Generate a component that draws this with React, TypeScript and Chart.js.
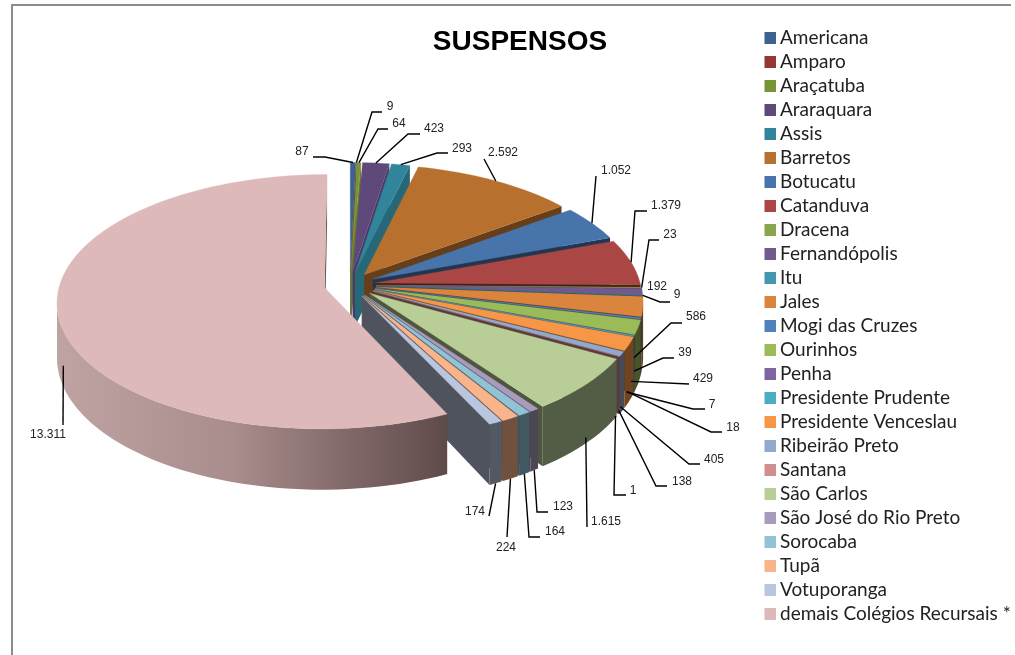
import React, { useEffect, useRef } from "react";
import { Chart, registerables } from "chart.js";

Chart.register(...registerables);

const categories = ["Americana","Amparo","Araçatuba","Araraquara","Assis","Barretos","Botucatu","Catanduva","Dracena","Fernandópolis","Itu","Jales","Mogi das Cruzes","Ourinhos","Penha","Presidente Prudente","Presidente Venceslau","Ribeirão Preto","Santana","São Carlos","São José do Rio Preto","Sorocaba","Tupã","Votuporanga","demais Colégios Recursais *"];
const suspensos = [87,9,64,423,293,2592,1052,1379,23,192,9,586,39,429,7,18,405,138,1,1615,123,164,224,174,13311];
const valueLabels = ["87","9","64","423","293","2.592","1.052","1.379","23","192","9","586","39","429","7","18","405","138","1","1.615","123","164","224","174","13.311"];
const sliceColors = ["#3B6291","#943734","#769535","#5F497A","#31859B","#B8702E","#4674AB","#AA4643","#89A54E","#71588F","#4198AF","#DB843D","#4F81BD","#9BBB59","#8064A2","#4BACC6","#F79646","#92A9CF","#CE8F8E","#B9CD96","#A99BBD","#91C3D5","#F9B48C","#B9C6DF","#DDB9B9"];

// Label layout: text centre, leader elbows (px), how far down the wall the leader attaches (0-1), anchor nudge.
type Lay = { t: [number, number]; e: [number, number][]; z: number; n?: [number, number] };
const labelLayout: Lay[] = [
  { t: [302, 152], e: [[313, 157], [325, 157]], z: 0 },
  { t: [390, 107], e: [[382, 112], [372, 112]], z: 0 },
  { t: [399, 124], e: [[388, 129], [378, 129]], z: 0 },
  { t: [434, 129], e: [[420, 134], [408, 134]], z: 0 },
  { t: [462, 149], e: [[448, 153], [437, 153]], z: 0 },
  { t: [503, 153], e: [[484, 159]], z: 0 },
  { t: [616, 171], e: [[596, 176]], z: 0 },
  { t: [666, 206], e: [[647, 211], [635, 211]], z: 0 },
  { t: [670, 235], e: [[659, 240], [649, 240]], z: 0 },
  { t: [657, 287], e: [], z: 0 },
  { t: [677, 295], e: [[670, 302], [660, 302]], z: 0 },
  { t: [696, 317], e: [[682, 323], [671, 323]], z: 1, n: [-9, -4] },
  { t: [685, 353], e: [[674, 358], [663, 358]], z: 1, n: [-7, -3] },
  { t: [703, 379], e: [[689, 384]], z: 1, n: [-7, -2] },
  { t: [712, 405], e: [[705, 409], [693, 409]], z: 1, n: [-8, 0] },
  { t: [733, 428], e: [[722, 432], [711, 432]], z: 1, n: [-7, -1] },
  { t: [714, 460], e: [[700, 464], [689, 464]], z: 1, n: [-9, 6] },
  { t: [682, 482], e: [[667, 486], [656, 486]], z: 1, n: [-3, -1] },
  { t: [633, 491], e: [[626, 495], [614, 495]], z: 1, n: [-4, 2] },
  { t: [606, 522], e: [[587, 527]], z: 0.9 },
  { t: [563, 507], e: [[548, 512], [537, 512]], z: 1 },
  { t: [555, 532], e: [[540, 537], [529, 537]], z: 1 },
  { t: [506, 548], e: [[507, 537]], z: 1 },
  { t: [475, 512], e: [[489, 516]], z: 1 },
  { t: [48, 435], e: [[63, 425]], z: 0.85, n: [5, 3] },
];

const CX = 350, CY = 285;
const SQUASH = 0.4717, PERSP = 0.11, DEPTH = 54, RAD = 265, EXPLODE = 104;

function shade(hex: string, f: number) {
  const n = parseInt(hex.slice(1), 16);
  const c = (s: number) => Math.round(((n >> s) & 255) * f);
  return `rgb(${c(16)},${c(8)},${c(0)})`;
}

function project(X: number, Y: number, z: number, R: number): [number, number] {
  const k = 1 / (1 - (PERSP * Y) / R);
  return [CX + X * k, CY + (Y * SQUASH + z) * k];
}

function wall(ctx: any, run: [number, number][], R: number, fill: any) {
  ctx.fillStyle = fill;
  ctx.beginPath();
  run.forEach((p, s) => {
    const a = project(p[0], p[1], 0, R);
    if (s) ctx.lineTo(a[0], a[1]); else ctx.moveTo(a[0], a[1]);
  });
  for (let s = run.length - 1; s >= 0; s--) {
    const a = project(run[s][0], run[s][1], DEPTH, R);
    ctx.lineTo(a[0], a[1]);
  }
  ctx.closePath();
  ctx.fill();
}

const pie3d = {
  id: "pie3d",
  beforeDraw(chart: any) {
    const { ctx } = chart;
    ctx.save();
    ctx.fillStyle = "#8c8c8c";
    ctx.fillRect(11, 4, 1000, 2);
    ctx.fillRect(11, 4, 2, 651);
    ctx.restore();
  },
  afterLayout(chart: any) {
    const l = chart.legend;
    l.left = 764.5; l.top = 23.5; l.bottom = 650; l.right = 1015;
    const t = chart.titleBlock;
    t.left = 420; t.right = 620; t.top = 25; t.bottom = 59;
  },
  beforeDatasetDraw(chart: any, args: any) {
    const { ctx } = chart;
    const meta = chart.getDatasetMeta(args.index);
    ctx.save();
    meta.data.forEach((arc: any, i: number) => {
      const { startAngle: a0, endAngle: a1, outerRadius: R, options } = arc;
      const mid = (a0 + a1) / 2;
      const off = (options.offset || 0) / 4;
      const ox = Math.cos(mid) * off, oy = Math.sin(mid) * off;
      const steps = Math.max(2, Math.ceil(((a1 - a0) * 180) / Math.PI / 2));
      const rim: [number, number][] = [];
      for (let s = 0; s <= steps; s++) {
        const a = a0 + ((a1 - a0) * s) / steps;
        rim.push([ox + Math.cos(a) * R, oy + Math.sin(a) * R]);
      }
      const apex: [number, number] = [ox, oy];
      const base = sliceColors[i];
      const isBig = i === meta.data.length - 1;
      const sx = (p: [number, number]) => project(p[0], p[1], 0, R)[0];

      // start cut face
      if (sx(rim[0]) < sx(apex)) wall(ctx, [apex, rim[0]], R, shade(base, 0.42));
      // outer rim: contiguous visible runs
      let rimFill: any = shade(base, 0.45);
      if (isBig) {
        const g = ctx.createLinearGradient(60, 0, 447, 0);
        g.addColorStop(0, "#BFA2A2");
        g.addColorStop(0.45, "#A98C8C");
        g.addColorStop(1, "#5F4A4A");
        rimFill = g;
      }
      let run: [number, number][] = [];
      for (let s = 0; s < rim.length - 1; s++) {
        if (sx(rim[s + 1]) < sx(rim[s])) {
          if (!run.length) run.push(rim[s]);
          run.push(rim[s + 1]);
        } else if (run.length) {
          wall(ctx, run, R, rimFill);
          run = [];
        }
      }
      if (run.length) wall(ctx, run, R, rimFill);
      // end cut face, lit more strongly near the back
      const end = rim[rim.length - 1];
      if (sx(apex) < sx(end)) {
        const deg = ((a1 + Math.PI / 2) * 180) / Math.PI;
        wall(ctx, [end, apex], R, shade(base, Math.max(0.42, 0.85 - 0.0055 * deg)));
      }
      // top surface
      ctx.fillStyle = base;
      ctx.strokeStyle = base;
      ctx.lineWidth = 0.3;
      ctx.beginPath();
      const a = project(apex[0], apex[1], 0, R);
      ctx.moveTo(a[0], a[1]);
      rim.forEach((p) => {
        const q = project(p[0], p[1], 0, R);
        ctx.lineTo(q[0], q[1]);
      });
      ctx.closePath();
      ctx.fill();
      ctx.stroke();
    });
    ctx.restore();
    return false;
  },
  afterDatasetsDraw(chart: any) {
    const { ctx } = chart;
    const meta = chart.getDatasetMeta(0);
    ctx.save();
    ctx.font = "12px 'Liberation Sans'";
    ctx.textAlign = "center";
    ctx.textBaseline = "middle";
    meta.data.forEach((arc: any, i: number) => {
      const lay = labelLayout[i];
      if (lay.e.length) {
        const { startAngle: a0, endAngle: a1, outerRadius: R, options } = arc;
        const mid = (a0 + a1) / 2;
        const off = (options.offset || 0) / 4 + R;
        const anchor = project(Math.cos(mid) * off, Math.sin(mid) * off, DEPTH * lay.z, R);
        const nudge = lay.n || [0, 0];
        ctx.strokeStyle = "#000";
        ctx.lineWidth = 1.4;
        ctx.beginPath();
        lay.e.forEach((p, s) => (s ? ctx.lineTo(p[0], p[1]) : ctx.moveTo(p[0], p[1])));
        ctx.lineTo(anchor[0] + nudge[0], anchor[1] + nudge[1]);
        ctx.stroke();
      }
      ctx.fillStyle = "#222";
      ctx.fillText(valueLabels[i], lay.t[0], lay.t[1]);
    });
    ctx.restore();
  },
};

export default function App() {
  const ref = useRef<HTMLCanvasElement>(null);
  useEffect(() => {
    const chart = new Chart(ref.current as HTMLCanvasElement, {
      type: "pie",
      data: {
        labels: categories,
        datasets: [{ data: suspensos, backgroundColor: sliceColors, borderWidth: 0, offset: EXPLODE, radius: RAD, clip: false } as any],
      },
      options: {
        responsive: false,
        animation: false,
        events: [],
        plugins: {
          tooltip: { enabled: false },
          title: {
            display: true,
            text: "SUSPENSOS",
            color: "#000",
            padding: 0,
            font: { family: "'Liberation Sans'", size: 28, weight: "bold" },
          },
          legend: {
            position: "right",
            align: "start",
            labels: {
              boxWidth: 1,
              boxHeight: 1,
              padding: 5,
              color: "#222",
              font: { family: "Lato", size: 19 },
              generateLabels: (c: any) =>
                (Chart as any).overrides.doughnut.plugins.legend.labels
                  .generateLabels(c)
                  .map((it: any) => ({ ...it, lineWidth: 11, strokeStyle: it.fillStyle })),
            },
          },
        },
      } as any,
      plugins: [pie3d as any],
    });
    return () => chart.destroy();
  }, []);
  return (
    <div style={{ position: "absolute", left: 0, top: 0, width: 1015, height: 655, background: "#fff", overflow: "hidden" }}>
      <canvas ref={ref} width={1015} height={655} style={{ display: "block" }} />
    </div>
  );
}
